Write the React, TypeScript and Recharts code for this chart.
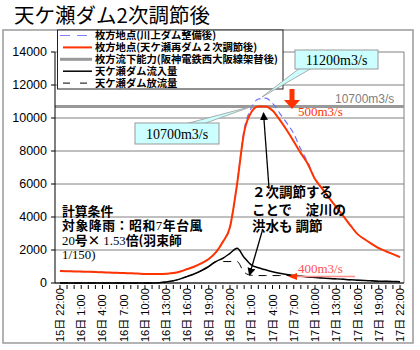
import React from 'react';
import { LineChart, Line, XAxis, YAxis, CartesianGrid, ReferenceLine } from 'recharts';

// hourly values, 15日22:00 .. 17日22:00 (m3/s)
const hirakataKawakami = [
  720, 710, 700, 690, 680, 670, 650, 630, 620, 600, 590, 570, 550, 540, 540, 560, 600,
  700, 850, 1000, 1200, 1450, 1850, 2500, 3400, 6000, 9300, 10600, 11150, 11200, 10900,
  10300, 9700, 9050, 8100, 7300, 6300, 5720, 5150, 4600, 4050, 3490, 2960, 2650, 2370,
  2110, 1925, 1750, 1570,
];
const hirakataNiji = [
  720, 710, 700, 690, 680, 670, 650, 630, 620, 600, 590, 570, 550, 540, 540, 560, 600,
  700, 850, 1000, 1200, 1450, 1850, 2500, 3400, 6000, 9150, 10350, 10700, 10700, 10450,
  9900, 9270, 8580, 7870, 7200, 6300, 5720, 5150, 4600, 4050, 3490, 2960, 2650, 2370,
  2110, 1925, 1750, 1570,
];
const amagaseInflow = [
  0, 0, 0, 0, 0, 0, 0, 0, 0, 0, 0, 0, 0, 0, 20, 60, 130,
  250, 400, 560, 760, 1000, 1300, 1500, 1800, 2100, 1550, 1100, 920, 800, 680,
  590, 520, 460, 410, 370, 340, 310, 280, 250, 220, 190, 170, 150, 130,
  110, 100, 90, 80,
];
const amagaseOutflow = [
  0, 0, 0, 0, 0, 0, 0, 0, 0, 0, 0, 0, 0, 0, 20, 60, 130,
  250, 400, 560, 760, 1000, 1300, 1300, 1300, 1300, 650, 470, 450, 450, 450,
  450, 450, 450, 410, 370, 340, 310, 280, 250, 220, 190, 170, 150, 130,
  110, 100, 90, 80,
];
const capacity = 10700;

const timeLabels = [
  '15日 22:00', '16日 1:00', '16日 4:00', '16日 7:00', '16日 10:00', '16日 13:00',
  '16日 16:00', '16日 19:00', '16日 22:00', '17日 1:00', '17日 4:00', '17日 7:00',
  '17日 10:00', '17日 13:00', '17日 16:00', '17日 19:00', '17日 22:00',
];
const yTicks = [0, 2000, 4000, 6000, 8000, 10000, 12000, 14000];

const hours = hirakataNiji.map((_, i) => i);
const xMin = -0.7;
const xMax = 48.56;

const data = hours.map((i) => ({
  i,
  kawakami: hirakataKawakami[i],
  niji: hirakataNiji[i],
  inflow: amagaseInflow[i],
  outflow: amagaseOutflow[i],
}));

const legendItems = [
  { name: '枚方地点(川上ダム整備後)', stroke: '#7f7fff', width: 1.2, dash: '10 7', x1: 60, x2: 88 },
  { name: '枚方地点(天ケ瀬再ダム２次調節後)', stroke: '#ff3300', width: 2, dash: undefined, x1: 63, x2: 92 },
  { name: '枚方流下能力(阪神電鉄西大阪線架替後)', stroke: '#999999', width: 3, dash: undefined, x1: 60, x2: 92 },
  { name: '天ケ瀬ダム流入量', stroke: '#000', width: 1.5, dash: undefined, x1: 63, x2: 92 },
  { name: '天ケ瀬ダム放流量', stroke: '#000', width: 1, dash: '7 10', x1: 63, x2: 87 },
];

const JP = '"Noto Sans CJK JP", sans-serif';
const SERIF = '"Liberation Serif", serif';

const XTick = (props: any) => {
  const { x, y, payload } = props;
  const i = payload.value;
  const label = i % 3 === 0 ? timeLabels[i / 3] : null;
  return (
    <g>
      <line x1={x} y1={y} x2={x} y2={y + 4} stroke="#000" />
      {label && (
        <text
          transform={`translate(${x + 4},${y + 57}) rotate(-90)`}
          fontSize={11}
          fill="#000"
          fontFamily={'"Liberation Sans", ' + JP}
        >
          {label}
        </text>
      )}
    </g>
  );
};

export default function App() {
  return (
    <div style={{ position: 'absolute', left: 0, top: 0, width: 420, height: 350, background: '#fff' }}>
      <LineChart
        width={420}
        height={350}
        data={data}
        margin={{ top: 52, right: 16, bottom: 7, left: 5 }}
        style={{ fontFamily: '"Liberation Sans", sans-serif' }}
      >
        <CartesianGrid vertical={false} stroke="#808080" />
        <XAxis
          dataKey="i"
          type="number"
          domain={[xMin, xMax]}
          ticks={hours}
          interval={0}
          allowDataOverflow
          height={60}
          tickSize={0}
          tickLine={false}
          axisLine={{ stroke: '#000' }}
          tick={(p: any) => <XTick {...p} />}
        />
        <YAxis
          domain={[0, 14000]}
          ticks={yTicks}
          width={50}
          tickSize={4}
          tickMargin={4}
          axisLine={{ stroke: '#000' }}
          tickLine={{ stroke: '#000' }}
          tick={{ fontSize: 12.5, fill: '#000' }}
        />
        <ReferenceLine x={xMax} stroke="#808080" />
        <ReferenceLine y={capacity} stroke="#999999" strokeWidth={3} />
        <Line type="monotone" dataKey="kawakami" stroke="#6f6fff" strokeWidth={1.2} strokeDasharray="6 4" dot={false} isAnimationActive={false} />
        <Line type="monotone" dataKey="niji" stroke="#ff3300" strokeWidth={2} dot={false} isAnimationActive={false} />
        <Line type="monotone" dataKey="inflow" stroke="#000" strokeWidth={1.5} dot={false} isAnimationActive={false} />
        <Line type="monotone" dataKey="outflow" stroke="#000" strokeWidth={1} strokeDasharray="8 6" dot={false} isAnimationActive={false} />
      </LineChart>

      <svg width={420} height={350} style={{ position: 'absolute', left: 0, top: 0, pointerEvents: 'none' }}>
        <defs>
          <marker id="ah" markerWidth="8" markerHeight="8" refX="7" refY="4" orient="auto" markerUnits="userSpaceOnUse">
            <path d="M0,0 L8,4 L0,8 z" fill="#000" />
          </marker>
          <clipPath id="plotclip">
            <rect x={55} y={40} width={349} height={250} />
          </clipPath>
        </defs>

        <text x={14} y={23} fontSize={20.5} fontFamily={JP} fill="#000">天ケ瀬ダム2次調節後</text>
        <rect x={3} y={30} width={410} height={313} fill="none" stroke="#9a9a9a" strokeWidth={1.5} />

        {/* legend */}
        <rect x={57.5} y={30} width={225.5} height={59} fill="#fff" stroke="#222" />
        {legendItems.map((it, k) => {
          const ly = 35.5 + k * 11.9;
          return (
            <g key={k}>
              <line x1={it.x1} x2={it.x2} y1={ly} y2={ly} stroke={it.stroke} strokeWidth={it.width} strokeDasharray={it.dash} />
              <text x={95} y={ly + 3.8} fontSize={10.3} fontWeight="bold" fontFamily={JP} fill="#000">{it.name}</text>
            </g>
          );
        })}

        {/* capacity label */}
        <text x={335} y={103} fontSize={12} fill="#808080" fontFamily='"Liberation Sans", sans-serif' clipPath="url(#plotclip)">10700m3/s</text>

        {/* red arrow + 500 */}
        <path d="M289.5,89 L294.5,89 L294.5,100 L300,100 L292,109 L284,100 L289.5,100 z" fill="#ff3300" />
        <text x={298} y={116} fontSize={13} fill="#ff3300" fontFamily={SERIF}>500m3/s</text>

        {/* callouts */}
        <path d="M300,68 L312,68 L262,97 z" fill="#ccffff" stroke="#999" strokeWidth={0.8} />
        <rect x={295} y={50} width={83} height={19} fill="#ccffff" stroke="#999" />
        <text x={336.5} y={64.5} fontSize={14} textAnchor="middle" fontFamily={SERIF} fill="#000">11200m3/s</text>

        <path d="M185,124 L203,124 L253,106 z" fill="#ccffff" stroke="#999" strokeWidth={0.8} />
        <rect x={135} y={123} width={84} height={21} fill="#ccffff" stroke="#999" />
        <text x={177} y={138.5} fontSize={14} textAnchor="middle" fontFamily={SERIF} fill="#000">10700m3/s</text>

        {/* conditions */}
        <g fontFamily={JP} fontSize={12.8} fontWeight="bold" fill="#000">
          <text x={62} y={215.5}>計算条件</text>
          <text x={62} y={230} letterSpacing={0.6}>対象降雨：昭和<tspan fontFamily={SERIF} fontWeight="normal">7</tspan>年台風</text>
          <text x={62} y={244.5}><tspan fontFamily={SERIF} fontWeight="normal">20</tspan>号× <tspan fontFamily={SERIF} fontWeight="normal">1.53</tspan>倍(羽束師</text>
          <text x={62} y={259} fontFamily={SERIF} fontWeight="normal">1/150)</text>
        </g>

        {/* note */}
        <g fontFamily={JP} fontSize={13.5} fontWeight="bold" fill="#000">
          <text x={252} y={197}>２次調節する</text>
          <text x={252} y={215}>ことで　淀川の</text>
          <text x={252} y={231}>洪水も 調節</text>
        </g>
        <line x1={269} y1={188} x2={263.5} y2={113} stroke="#000" strokeWidth={1.3} markerEnd="url(#ah)" />
        <line x1={262.5} y1={230} x2={249.5} y2={275} stroke="#000" strokeWidth={1.3} markerEnd="url(#ah)" />

        {/* 400 */}
        <text x={298} y={273} fontSize={13} fill="#ff5050" fontFamily={SERIF}>400m3/s</text>
        <line x1={296} y1={276.5} x2={355} y2={276.5} stroke="#ff9090" strokeWidth={1.5} />
        <path d="M288,276.5 L297,273 L297,280 z" fill="#ff3300" />
      </svg>
    </div>
  );
}
